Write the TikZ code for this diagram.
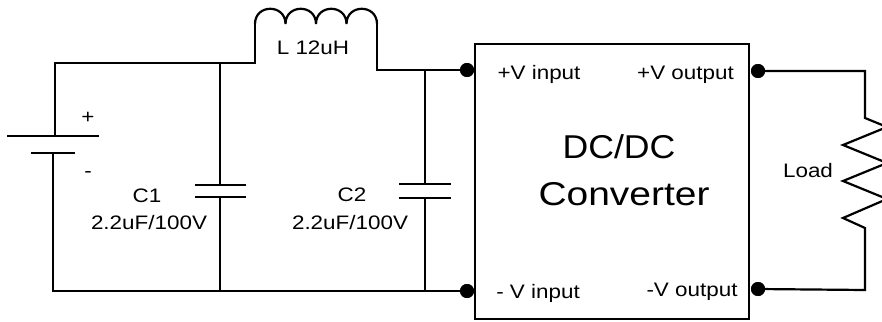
\documentclass[tikz,border=0pt]{standalone}
\usepackage{graphicx}
\usepackage{fontspec}
\setmainfont{Liberation Sans}
\newcommand\hs[2][1.15]{\scalebox{#1}[1]{#2}}
\tikzset{
  wire/.style={line width=2.2pt, line join=miter},
  pinDot/.style={circle, fill=black, inner sep=0pt, minimum size=14pt},
  lbl/.style={font=\fontsize{19.5}{23}\selectfont, anchor=base, inner sep=0pt},
  biglbl/.style={font=\fontsize{33}{40}\selectfont, anchor=base, inner sep=0pt},
  convbox/.style={draw, line width=2.4pt, minimum width=274pt, minimum height=275pt, inner sep=0pt}
}
\begin{document}
\begin{tikzpicture}[x=1pt,y=-1pt]
\useasboundingbox (0,0) rectangle (882,321);
% coordinates
\coordinate (bTop) at (55,63);
\coordinate (bPlus) at (55,136);
\coordinate (bMinus) at (53,153);
\coordinate (bBot) at (53,291);
\coordinate (c1Top) at (220,63);
\coordinate (c1A) at (220,185);
\coordinate (c1B) at (220,197);
\coordinate (c1Bot) at (220,291);
\coordinate (lIn) at (255,63);
\coordinate (lInUp) at (255,24);
\coordinate (lOutUp) at (377,24);
\coordinate (lOut) at (377,70);
\coordinate (c2Top) at (425,70);
\coordinate (c2A) at (425,184);
\coordinate (c2B) at (425,198);
\coordinate (c2Bot) at (425,291);
\coordinate (rTop) at (865,71);
\coordinate (rA) at (865,118);
\coordinate (rB) at (865,228);
\coordinate (rBot) at (865,290);
% converter box
\node[convbox] (conv) at (612,181.5) {};
% pins
\node[pinDot] (pinVin) at (467,70) {};
\node[pinDot] (pinGin) at (467,291) {};
\node[pinDot] (pinVout) at (758,71) {};
\node[pinDot] (pinGout) at (758,289) {};
% battery
\draw[wire] (7,136) -- (99,136);
\draw[wire] (31,153) -- (75,153);
\draw[wire] (bPlus) -- (bTop) -- (c1Top) -- (lIn) -- (lInUp);
\draw[wire] (bMinus) -- (bBot) -- (c1Bot) -- (c2Bot) -- (pinGin.center);
% C1
\draw[wire] (c1Top) -- (c1A);
\draw[wire] (195,185) -- (246,185);
\draw[wire] (195,197) -- (246,197);
\draw[wire] (c1B) -- (c1Bot);
% inductor
\draw[wire] (lInUp)
  .. controls (255,3.7) and (285.5,3.7) .. (285.5,24)
  .. controls (285.5,3.7) and (316,3.7) .. (316,24)
  .. controls (316,3.7) and (346.5,3.7) .. (346.5,24)
  .. controls (346.5,3.7) and (377,3.7) .. (lOutUp);
\draw[wire] (lOutUp) -- (lOut) -- (c2Top) -- (pinVin.center);
% C2
\draw[wire] (c2Top) -- (c2A);
\draw[wire] (399,184) -- (451,184);
\draw[wire] (399,198) -- (451,198);
\draw[wire] (c2B) -- (c2Bot);
% load
\draw[wire] (pinVout.center) -- (rTop) -- (rA) -- (887,127) -- (843,145) -- (887,163) -- (843,181) -- (887,199) -- (843,218) -- (rB) -- (rBot) -- (pinGout.center);
% redraw pins on top
\node[pinDot] at (pinVin) {};
\node[pinDot] at (pinGin) {};
\node[pinDot] at (pinVout) {};
\node[pinDot] at (pinGout) {};
% labels
\node[lbl] (tPlus) at (88,123) {\hs{+}};
\node[lbl] (tMinus) at (88,177) {\hs{-}};
\node[lbl] (tC1) at (147,202) {\hs{C1}};
\node[lbl] (tC1v) at (149,229) {\hs{2.2uF/100V}};
\node[lbl] (tC2) at (352,201) {\hs{C2}};
\node[lbl] (tC2v) at (350,229) {\hs{2.2uF/100V}};
\node[lbl] (tL) at (313,55) {\hs{L 12uH}};
\node[lbl] (tLoad) at (808,177) {\hs{Load}};
\node[lbl] (tVin) at (539,79) {\hs{+V input}};
\node[lbl] (tVout) at (685.5,79) {\hs{+V output}};
\node[lbl] (tGin) at (538,298) {\hs{- V input}};
\node[lbl] (tGout) at (692,296) {\hs{-V output}};
\node[biglbl] (tDC) at (619,158) {\hs[1.08]{DC/DC}};
\node[biglbl] (tConv) at (624,205) {\hs[1.18]{Converter}};
\end{tikzpicture}
\end{document}
